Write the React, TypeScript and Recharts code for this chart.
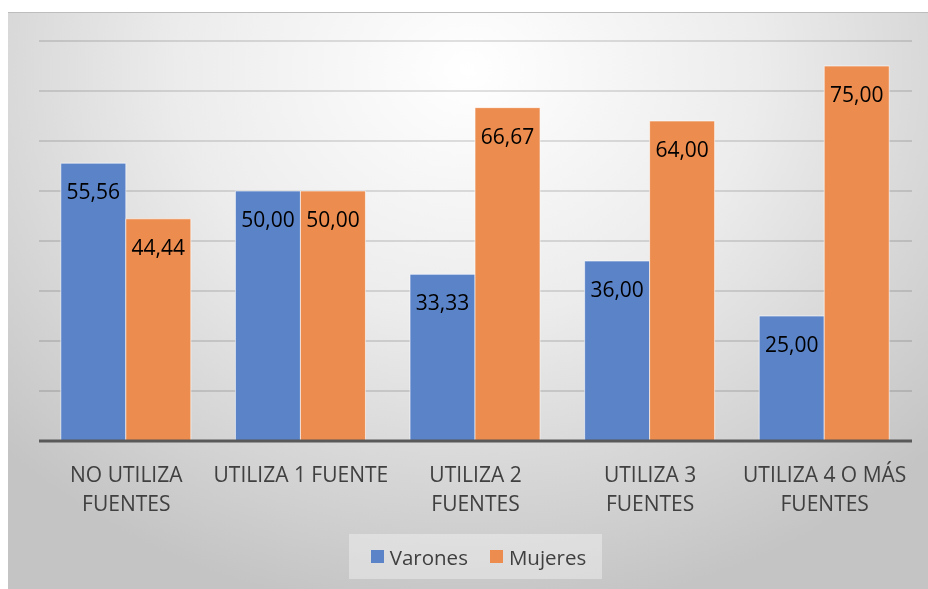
import React from "react";
import { BarChart, Bar, XAxis, YAxis, CartesianGrid, Legend, LabelList } from "recharts";

const categories = ["NO UTILIZA FUENTES", "UTILIZA 1 FUENTE", "UTILIZA 2 FUENTES", "UTILIZA 3 FUENTES", "UTILIZA 4 O MÁS FUENTES"];
// how each category label is broken onto lines under the axis
const tickLines = [["NO UTILIZA", "FUENTES"], ["UTILIZA 1 FUENTE"], ["UTILIZA 2", "FUENTES"], ["UTILIZA 3", "FUENTES"], ["UTILIZA 4 O MÁS", "FUENTES"]];
const varones = [55.56, 50.0, 33.33, 36.0, 25.0];
const mujeres = [44.44, 50.0, 66.67, 64.0, 75.0];
const yTicks = [0, 10, 20, 30, 40, 50, 60, 70, 80];

const BLUE = "#5b83c8";
const ORANGE = "#ec8c4e";
const FONT = "'Open Sans', sans-serif";

const data = categories.map((name, i) => ({
  name,
  idx: i,
  Varones: varones[i],
  Mujeres: mujeres[i],
}));

const fmt = (v: number) => v.toFixed(2).replace(".", ",");

const ValueLabel = (props: any) => {
  const { x, y, width, value } = props;
  return (
    <text x={x + width / 2} y={y + 28} textAnchor="middle" dominantBaseline="central" fontSize={21} fontFamily={FONT} fill="#000">
      {fmt(value)}
    </text>
  );
};

const CategoryTick = (props: any) => {
  const { x, y, index } = props;
  const lines = tickLines[index] || [];
  return (
    <g>
      {lines.map((line, i) => (
        <text key={i} x={x} y={y + 33 + i * 29} textAnchor="middle" dominantBaseline="central" fontSize={21} fontFamily={FONT} fill="#404040">
          {line}
        </text>
      ))}
    </g>
  );
};

const LegendBox = () => (
  <div style={{ display: "flex", justifyContent: "center" }}>
    <div
      style={{
        display: "flex",
        alignItems: "center",
        height: 45,
        padding: "0 16px 0 22px",
        background: "rgba(255,255,255,0.35)",
        fontFamily: FONT,
        fontSize: 20.5,
        color: "#404040",
      }}
    >
      <span style={{ display: "inline-block", width: 13, height: 13, background: BLUE, marginRight: 6 }} />
      <span style={{ marginRight: 22 }}>Varones</span>
      <span style={{ display: "inline-block", width: 13, height: 13, background: ORANGE, marginRight: 6 }} />
      <span>Mujeres</span>
    </div>
  </div>
);

export default function App() {
  return (
    <div
      style={{
        position: "fixed",
        top: 12,
        left: 8,
        width: 920,
        height: 577,
        borderTop: "1px solid #bdbdbd",
        boxSizing: "border-box",
        background: "radial-gradient(ellipse 70% 95% at 50% 10%, #ffffff 0%, #ececec 45%, #d6d6d6 75%, #c4c4c4 100%)",
      }}
    >
      <BarChart
        width={920}
        height={576}
        data={data}
        margin={{ top: 28, right: 16, left: 31, bottom: 0 }}
        barCategoryGap="12.5%"
        barGap={0}
      >
        <CartesianGrid vertical={false} stroke="rgba(0,0,0,0.16)" strokeWidth={1.5} />
        <YAxis hide domain={[0, 80]} ticks={yTicks} />
        <XAxis
          dataKey="name"
          height={148}
          interval={0}
          tickLine={false}
          tickSize={0}
          tickMargin={0}
          axisLine={{ stroke: "#595959", strokeWidth: 3 }}
          tick={<CategoryTick />}
        />
        <Legend verticalAlign="middle" content={<LegendBox />} wrapperStyle={{ top: 521, left: 31, width: 873 }} />
        <Bar dataKey="Varones" fill={BLUE} stroke="rgba(255,255,255,0.6)" strokeWidth={1} isAnimationActive={false}>
          <LabelList dataKey="Varones" content={<ValueLabel />} />
        </Bar>
        <Bar dataKey="Mujeres" fill={ORANGE} stroke="rgba(255,255,255,0.6)" strokeWidth={1} isAnimationActive={false}>
          <LabelList dataKey="Mujeres" content={<ValueLabel />} />
        </Bar>
      </BarChart>
    </div>
  );
}
